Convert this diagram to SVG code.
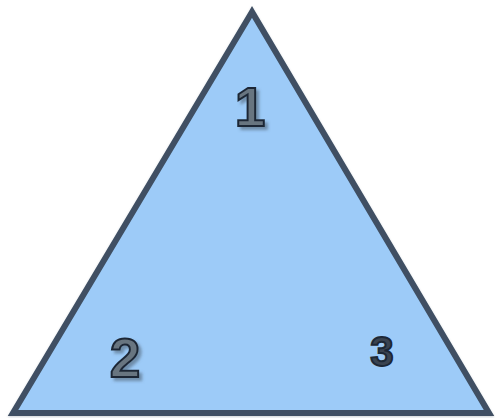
<svg xmlns="http://www.w3.org/2000/svg" width="495" height="418" viewBox="0 0 495 418">
  <defs>
    <filter id="sh" x="-30%" y="-30%" width="160%" height="160%">
      <feDropShadow dx="3" dy="3" stdDeviation="1.5" flood-color="#4a5a6a" flood-opacity="0.55"/>
    </filter>
    <filter id="tri" x="-5%" y="-5%" width="110%" height="110%">
      <feDropShadow dx="0" dy="1" stdDeviation="1" flood-color="#556677" flood-opacity="0.3"/>
    </filter>
  </defs>
  <style>
    .lbl { font-family: "Liberation Sans", Arial, sans-serif; font-weight: bold; text-anchor: middle; stroke: #1d2836; stroke-width: 2; paint-order: normal; }
  </style>
  <g id="triangle" filter="url(#tri)">
    <polygon points="252,12 13,413 489,413" fill="#9dcbf8" stroke="#3f5064" stroke-width="6" stroke-linejoin="miter"/>
  </g>
  <g id="label1" filter="url(#sh)">
    <text class="lbl" x="250" y="126" font-size="55" fill="#687480">1</text>
  </g>
  <g id="label2" filter="url(#sh)">
    <text class="lbl" x="125" y="377" font-size="55" fill="#687480">2</text>
  </g>
  <g id="label3">
    <text class="lbl" x="382" y="366" font-size="42" fill="#3a4350">3</text>
  </g>
</svg>
